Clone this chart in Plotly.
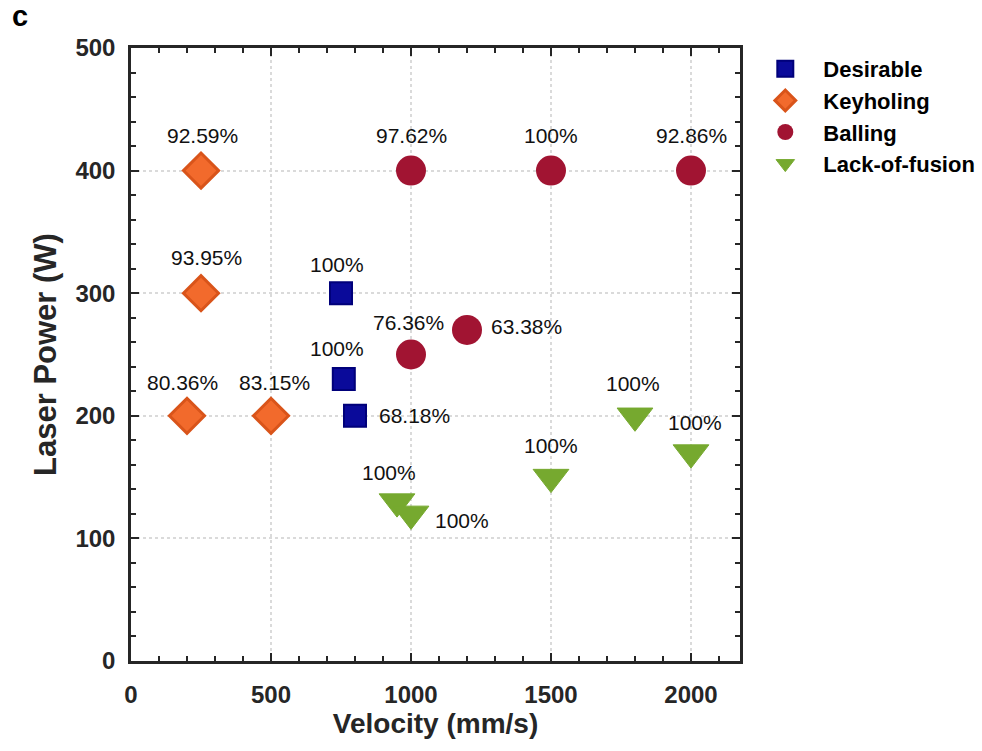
import plotly.graph_objects as go

# ---- data ----
desirable_v = [750, 760, 800]
desirable_p = [300, 230, 200]
desirable_lbl = ["100%", "100%", "68.18%"]

keyhole_v = [250, 250, 200, 500]
keyhole_p = [400, 300, 200, 200]
keyhole_lbl = ["92.59%", "93.95%", "80.36%", "83.15%"]

balling_v = [1000, 1500, 2000, 1000, 1200]
balling_p = [400, 400, 400, 250, 270]
balling_lbl = ["97.62%", "100%", "92.86%", "76.36%", "63.38%"]

lof_v = [950, 1000, 1500, 1800, 2000]
lof_p = [130, 120, 150, 200, 170]
lof_lbl = ["100%", "100%", "100%", "100%", "100%"]

x_ticks = [0, 500, 1000, 1500, 2000]
y_ticks = [0, 100, 200, 300, 400, 500]

# ---- label placement (pixel offsets: xshift, yshift, anchor) ----
desirable_off = [(-4, 29, "center"), (-7, 31, "center"), (22, 0, "left")]
keyhole_off = [(1, 35, "center"), (5, 36, "center"), (-5, 33, "center"), (3, 33, "center")]
balling_off = [(0, 35, "center"), (0, 35, "center"), (0, 35, "center"), (-3, 32, "center"), (22, 3, "left")]
lof_off = [(-8, 29, "center"), (22, -7, "left"), (0, 32, "center"), (-2, 32, "center"), (4, 30, "center")]

FONT = "Arial, Liberation Sans, Helvetica, sans-serif"
AXC = "#262626"

fig = go.Figure()
fig.add_trace(go.Scatter(
    x=desirable_v, y=desirable_p, mode="markers", name="<b>Desirable</b>",
    marker=dict(symbol="square", size=22, color="#0a0a9a", line=dict(color="#00007a", width=2)),
    legendgroup="a"))
fig.add_trace(go.Scatter(
    x=keyhole_v, y=keyhole_p, mode="markers", name="<b>Keyholing</b>",
    marker=dict(symbol="diamond", size=27, color="#f26a2c", line=dict(color="#d9541a", width=3)),
    legendgroup="b"))
fig.add_trace(go.Scatter(
    x=balling_v, y=balling_p, mode="markers", name="<b>Balling</b>",
    marker=dict(symbol="circle", size=30, color="#a11432", line=dict(color="#a11432", width=0)),
    legendgroup="c"))
fig.add_trace(go.Scatter(
    x=lof_v, y=lof_p, mode="markers", name="<b>Lack-of-fusion</b>",
    marker=dict(symbol="triangle-down", size=31, color="#76a92f", line=dict(color="#76a92f", width=1)),
    legendgroup="d"))

annotations = []
for xs, ys, lbls, offs in [(desirable_v, desirable_p, desirable_lbl, desirable_off),
                           (keyhole_v, keyhole_p, keyhole_lbl, keyhole_off),
                           (balling_v, balling_p, balling_lbl, balling_off),
                           (lof_v, lof_p, lof_lbl, lof_off)]:
    for x, y, t, (dx, dy, anc) in zip(xs, ys, lbls, offs):
        annotations.append(dict(x=x, y=y, xref="x", yref="y", text=t, showarrow=False,
                                xanchor=anc, yanchor="middle", xshift=dx, yshift=dy,
                                font=dict(family=FONT, size=21, color="#111111")))

annotations.append(dict(x=-0.182, y=1.052, xref="paper", yref="paper", text="<b>c</b>",
                        showarrow=False, xanchor="center", yanchor="middle",
                        font=dict(family=FONT, size=29, color="black")))

axis_common = dict(
    showline=True, linewidth=2.5, linecolor=AXC, mirror="ticks",
    ticks="inside", ticklen=8, tickwidth=2, tickcolor=AXC,
    showgrid=True, gridcolor="#dadada", griddash="dot", gridwidth=2,
    zeroline=False,
    tickfont=dict(family=FONT, size=24, color=AXC),
)

fig.update_layout(
    width=982, height=751,
    margin=dict(l=131, r=242, t=48, b=90, autoexpand=False),
    plot_bgcolor="white", paper_bgcolor="white",
    font=dict(family=FONT),
    xaxis=dict(range=[0, 2175], tickvals=x_ticks, ticktext=[f"<b>{v}</b>" for v in x_ticks],
               minor=dict(dtick=100, ticks="inside", ticklen=5, tickwidth=2, tickcolor=AXC, showgrid=False),
               ticklabelstandoff=10,
               title=dict(text="<b>Velocity (mm/s)</b>", font=dict(family=FONT, size=28, color=AXC), standoff=6),
               **axis_common),
    yaxis=dict(range=[0, 500], tickvals=y_ticks, ticktext=[f"<b>{v}</b>" for v in y_ticks],
               minor=dict(dtick=20, ticks="inside", ticklen=5, tickwidth=2, tickcolor=AXC, showgrid=False),
               ticklabelstandoff=8,
               title=dict(text="<b>Laser Power (W)</b>", font=dict(family=FONT, size=31, color=AXC), standoff=10),
               **axis_common),
    legend=dict(x=1.012, y=1.0, xanchor="left", yanchor="top",
                font=dict(family=FONT, size=22, color="black"),
                bgcolor="rgba(0,0,0,0)", tracegroupgap=0, itemwidth=66),
    annotations=annotations,
    showlegend=True,
)

fig.write_html("out.html")
